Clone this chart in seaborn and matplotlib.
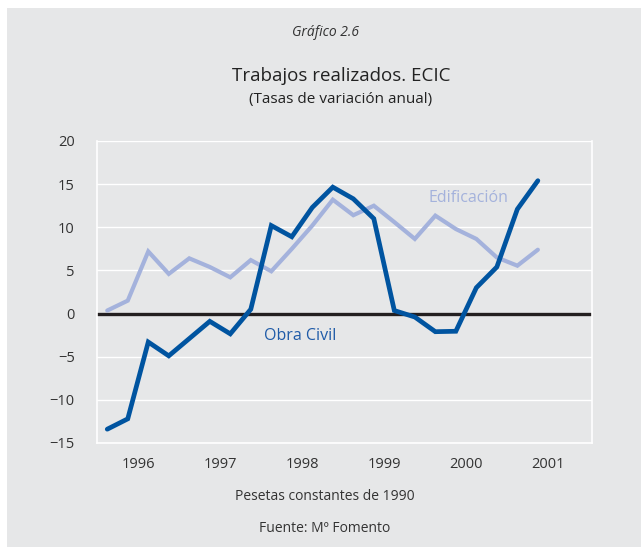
import numpy as np
import pandas as pd
import matplotlib.pyplot as plt
import seaborn as sns
from matplotlib.patches import Rectangle

# trimestres 1996T1 - 2001T2
trimestres = list(range(22))
edificacion = [0.35, 1.5, 7.2, 4.6, 6.4, 5.4, 4.2, 6.2, 4.9, 7.5, 10.2, 13.2,
               11.4, 12.5, 10.6, 8.65, 11.35, 9.8, 8.65, 6.5, 5.55, 7.4]
obra_civil = [-13.4, -12.2, -3.3, -4.9, -2.9, -0.9, -2.35, 0.5, 10.2, 8.9, 12.3, 14.65,
              13.3, 11.0, 0.35, -0.4, -2.1, -2.05, 3.0, 5.4, 12.1, 15.4]
anios = ['1996', '1997', '1998', '1999', '2000', '2001']
pos_anios = [1.5, 5.5, 9.5, 13.5, 17.5, 21.5]

fondo = '#e6e7e8'
azul = '#0054a0'
lila = '#a4b2dc'

sns.set_theme(style='darkgrid', rc={'axes.facecolor': fondo, 'figure.facecolor': 'white',
                                    'grid.color': 'white', 'grid.linewidth': 1.0})
plt.rcParams['font.family'] = ['Open Sans', 'DejaVu Sans']

df = pd.DataFrame({'t': trimestres * 2,
                   'valor': edificacion + obra_civil,
                   'serie': ['Edificación'] * 22 + ['Obra Civil'] * 22})

fig = plt.figure(figsize=(6.41, 5.47), dpi=100)
fig.patches.append(Rectangle((7 / 641, 0), 634 / 641, 539 / 547, transform=fig.transFigure,
                             facecolor=fondo, edgecolor='none', zorder=-10))
ax = fig.add_axes([97 / 641, 104 / 547, 495 / 641, 302 / 547])

sns.lineplot(data=df, x='t', y='valor', hue='serie', palette={'Edificación': lila, 'Obra Civil': azul},
             linewidth=3.4, legend=False, ax=ax, hue_order=['Edificación', 'Obra Civil'])
for l in ax.lines:
    l.set_solid_joinstyle('miter')
ax.lines[0].set_linewidth(3.0)

ax.axhline(0, color='#231f20', linewidth=2.4, zorder=1.5)

ax.set_xlim(-0.5, 23.64)
ax.set_ylim(-15, 20)
ax.set_yticks(range(-15, 21, 5))
ax.set_xticks(pos_anios)
ax.set_xticklabels(anios)
ax.grid(axis='x', visible=False)
ax.set_xlabel('')
ax.set_ylabel('')
ax.tick_params(axis='both', labelsize=10.5, colors='#333333', length=0)
ax.tick_params(axis='y', pad=16)
ax.tick_params(axis='x', pad=10)
for s in ['left', 'right', 'bottom']:
    ax.spines[s].set_visible(True)
    ax.spines[s].set_color('white')
    ax.spines[s].set_linewidth(1.2)
ax.spines['top'].set_visible(False)

ax.text(17.6, 13.45, 'Edificación', color=lila, fontsize=11.5, ha='center', va='center')
ax.text(9.4, -2.55, 'Obra Civil', color='#1f5ba8', fontsize=11.5, ha='center', va='center')

fig.text(326 / 641, 1 - 32 / 547, 'Gráfico 2.6', style='italic', fontsize=10, ha='center',
         va='center', color='#333333')
fig.text(341 / 641, 1 - 76 / 547, 'Trabajos realizados. ECIC', fontsize=13.5, ha='center',
         va='center', color='#222222')
fig.text(341 / 641, 1 - 99 / 547, '(Tasas de variación anual)', fontsize=11, ha='center',
         va='center', color='#222222')
fig.text(325 / 641, 1 - 496 / 547, 'Pesetas constantes de 1990', fontsize=10, ha='center',
         va='center', color='#333333')
fig.text(325 / 641, 1 - 528 / 547, 'Fuente: Mº Fomento', fontsize=10, ha='center',
         va='center', color='#333333')

fig.savefig('out.png', dpi=100)
